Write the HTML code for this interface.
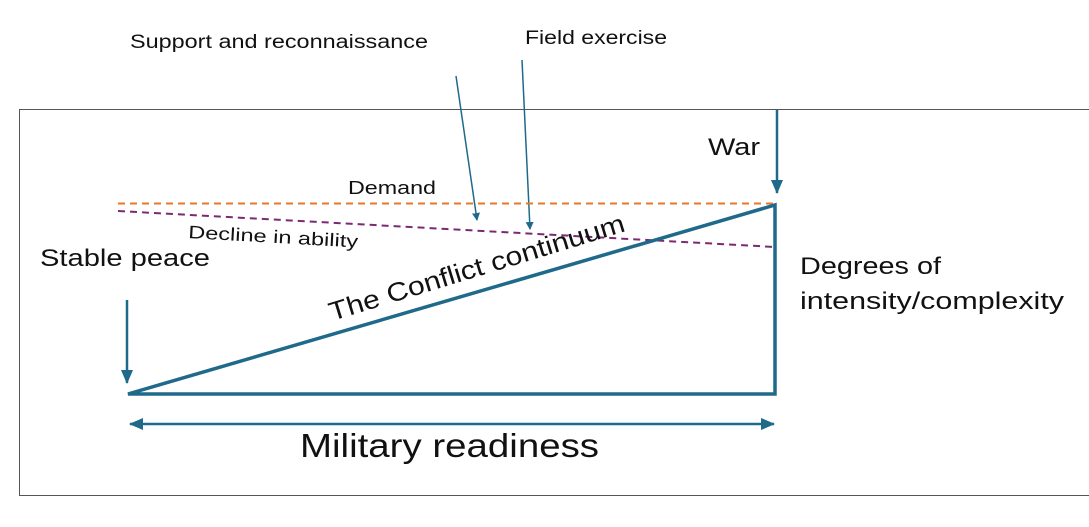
<!DOCTYPE html>
<html><head><style>
body{margin:0;background:#fff;width:1089px;height:522px;overflow:hidden}
text{font-family:"Liberation Sans",sans-serif;fill:#111}
</style></head><body>
<svg width="1089" height="522" xmlns="http://www.w3.org/2000/svg">
<defs>
<marker id="a" markerWidth="8" markerHeight="8" refX="7" refY="4" orient="auto" markerUnits="userSpaceOnUse"><path d="M0,0L8,4L0,8z" fill="#1f6a8a"/></marker>
<marker id="b" markerWidth="14" markerHeight="12" refX="13" refY="6" orient="auto" markerUnits="userSpaceOnUse"><path d="M0,0L14,6L0,12z" fill="#1f6a8a"/></marker>
<marker id="c" markerWidth="14" markerHeight="12" refX="1" refY="6" orient="auto" markerUnits="userSpaceOnUse"><path d="M14,0L0,6L14,12z" fill="#1f6a8a"/></marker>
</defs>
<rect x="19.5" y="109.5" width="1075" height="386" fill="none" stroke="#555" stroke-width="1"/>
<text x="130" y="48" font-size="19" textLength="298" lengthAdjust="spacingAndGlyphs">Support and reconnaissance</text>
<text x="525" y="44" font-size="19" textLength="142" lengthAdjust="spacingAndGlyphs">Field exercise</text>
<line x1="456" y1="76" x2="477" y2="220" stroke="#1f6a8a" stroke-width="1.5" marker-end="url(#a)"/>
<line x1="522" y1="60" x2="530" y2="229" stroke="#1f6a8a" stroke-width="1.5" marker-end="url(#a)"/>
<line x1="118" y1="203.5" x2="775" y2="203.5" stroke="#e8772e" stroke-width="2" stroke-dasharray="7,5"/>
<line x1="118" y1="211" x2="775" y2="247" stroke="#7b2a72" stroke-width="2" stroke-dasharray="7,5"/>
<text x="348" y="194" font-size="18" textLength="88" lengthAdjust="spacingAndGlyphs">Demand</text>
<text x="188" y="238" font-size="18" transform="rotate(3.2 188 238)" textLength="170" lengthAdjust="spacingAndGlyphs">Decline in ability</text>
<text x="40" y="266" font-size="24" textLength="170" lengthAdjust="spacingAndGlyphs">Stable peace</text>
<text x="708" y="155" font-size="24" textLength="52" lengthAdjust="spacingAndGlyphs">War</text>
<text x="800" y="274" font-size="24" textLength="141" lengthAdjust="spacingAndGlyphs">Degrees of</text>
<text x="800" y="309" font-size="24" textLength="264" lengthAdjust="spacingAndGlyphs">intensity/complexity</text>
<path d="M128,394L775,205L775,394Z" fill="none" stroke="#1f6a8a" stroke-width="3.5" stroke-linejoin="miter"/>
<line x1="127" y1="300" x2="127" y2="383" stroke="#1f6a8a" stroke-width="2.5" marker-end="url(#b)"/>
<line x1="777" y1="110" x2="777" y2="193" stroke="#1f6a8a" stroke-width="2.5" marker-end="url(#b)"/>
<text x="332" y="321" font-size="26" transform="rotate(-17 332 321)" textLength="308" lengthAdjust="spacingAndGlyphs">The Conflict continuum</text>
<line x1="130" y1="424" x2="774" y2="424" stroke="#1f6a8a" stroke-width="2.5" marker-start="url(#c)" marker-end="url(#b)"/>
<text x="300" y="457" font-size="33" textLength="299" lengthAdjust="spacingAndGlyphs">Military readiness</text>
</svg>
</body></html>
